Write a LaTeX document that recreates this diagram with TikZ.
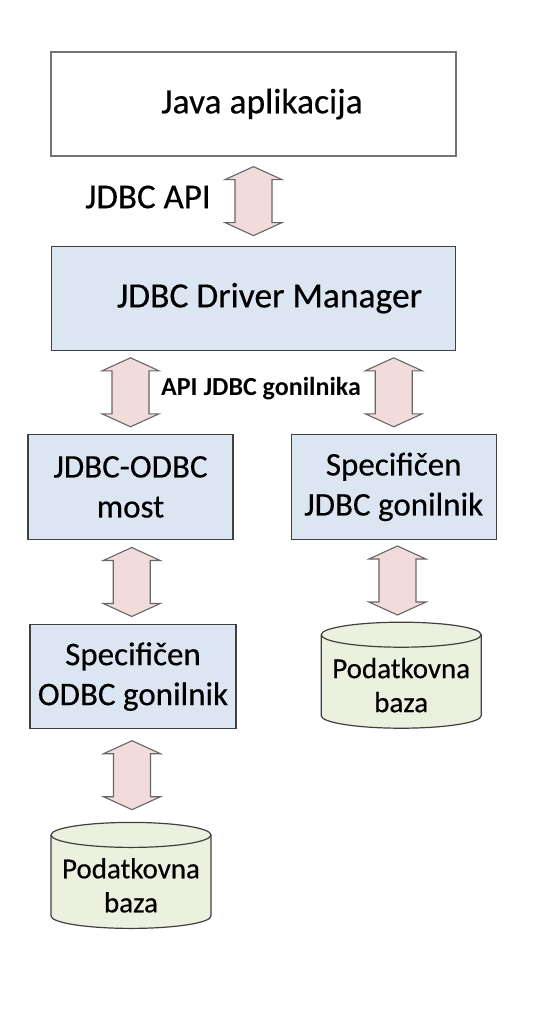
\documentclass[tikz,border=0pt]{standalone}
\usepackage{fontspec}
\setmainfont{Carlito}[UprightFeatures={FakeBold=0.4}]
\usetikzlibrary{positioning,calc}

\definecolor{boxfill}{HTML}{DCE6F2}
\definecolor{boxline}{HTML}{404040}
\definecolor{arrfill}{HTML}{F2DCDB}
\definecolor{arrline}{HTML}{666666}
\definecolor{dbfill}{HTML}{EBF1DE}

\tikzset{
    box/.style={draw=boxline, fill=boxfill, line width=1.2pt, align=center,
        minimum width=205pt, minimum height=105pt, font=\fontsize{33}{40}\selectfont},
    database/.style={rectangle, inner sep=0pt, minimum width=164pt, minimum height=108pt,
        align=center, text height=74pt, font=\fontsize{29}{34}\selectfont,
        path picture={
            \path[draw=boxline, fill=dbfill, line width=1.2pt]
                let \p0=(path picture bounding box.center) in
                (\x0-80pt,\y0+40.5pt) -- (\x0-80pt,\y0-40.5pt)
                arc[start angle=180, end angle=360, x radius=80pt, y radius=12.5pt]
                -- (\x0+80pt,\y0+40.5pt)
                arc[start angle=0, end angle=180, x radius=80pt, y radius=12.5pt] -- cycle;
            \path[draw=boxline, line width=1.2pt]
                let \p0=(path picture bounding box.center) in
                (\x0-80pt,\y0+40.5pt)
                arc[start angle=180, end angle=360, x radius=80pt, y radius=12.5pt];}},
    dblarr/.style={draw=arrline, fill=arrfill, line width=1.1pt, to path={
        let \p1=(\tikztostart), \p2=(\tikztotarget), \p3=($(\p1)!0.5!(\p2)$) in
        (\x3,\y3+34.5pt) -- (\x3+28.5pt,\y3+21.5pt) -- (\x3+18.5pt,\y3+21.5pt)
        -- (\x3+18.5pt,\y3-21.5pt) -- (\x3+28.5pt,\y3-21.5pt) -- (\x3,\y3-34.5pt)
        -- (\x3-28.5pt,\y3-21.5pt) -- (\x3-18.5pt,\y3-21.5pt)
        -- (\x3-18.5pt,\y3+21.5pt) -- (\x3-28.5pt,\y3+21.5pt) -- cycle}}
}

\begin{document}
\begin{tikzpicture}
    \useasboundingbox (0,0) rectangle (546pt,-1018pt);

    \node[box, fill=white, draw=black!55, minimum width=405pt, minimum height=104pt,
        font=\fontsize{35.5}{40}\selectfont] (app) at (253.5pt,-104pt) {\hspace*{17pt}Java aplikacija};
    \node[box, below=89pt of app, minimum width=404pt, minimum height=104pt,
        font=\fontsize{35.5}{40}\selectfont] (manager) {\hspace*{32pt}JDBC Driver Manager};
    \node[box, below=83pt of manager, xshift=-123pt] (bridge) {JDBC-ODBC\\most};
    \node[box, right=57pt of bridge] (jdriver) {Specifičen\\JDBC gonilnik};
    \node[box, below=84pt of bridge, xshift=2.5pt, minimum width=206pt, minimum height=104pt] (odriver) {Specifičen\\ODBC gonilnik};
    \node[database, below=81pt of jdriver, xshift=7.5pt] (jbase) {Podatkovna\\baza};
    \node[database, below=92pt of odriver, xshift=-2pt] (obase) {Podatkovna\\baza};

    \node[font=\fontsize{35}{40}\selectfont] (jdbcapi) at (148pt,-197pt) {JDBC API};
    \node[font=\bfseries\fontsize{26}{30}\selectfont] (driverapi) at (261pt,-389pt) {API JDBC gonilnika};

    \draw[dblarr] (app.south) to (manager.north);
    \draw[dblarr] (manager.south -| bridge.north) to (bridge.north);
    \draw[dblarr] (manager.south -| jdriver.north) to (jdriver.north);
    \draw[dblarr] (bridge.south) to (odriver.north);
    \draw[dblarr] (jdriver.south) to (jbase.north);
    \draw[dblarr] (odriver.south) to (obase.north);
\end{tikzpicture}
\end{document}
